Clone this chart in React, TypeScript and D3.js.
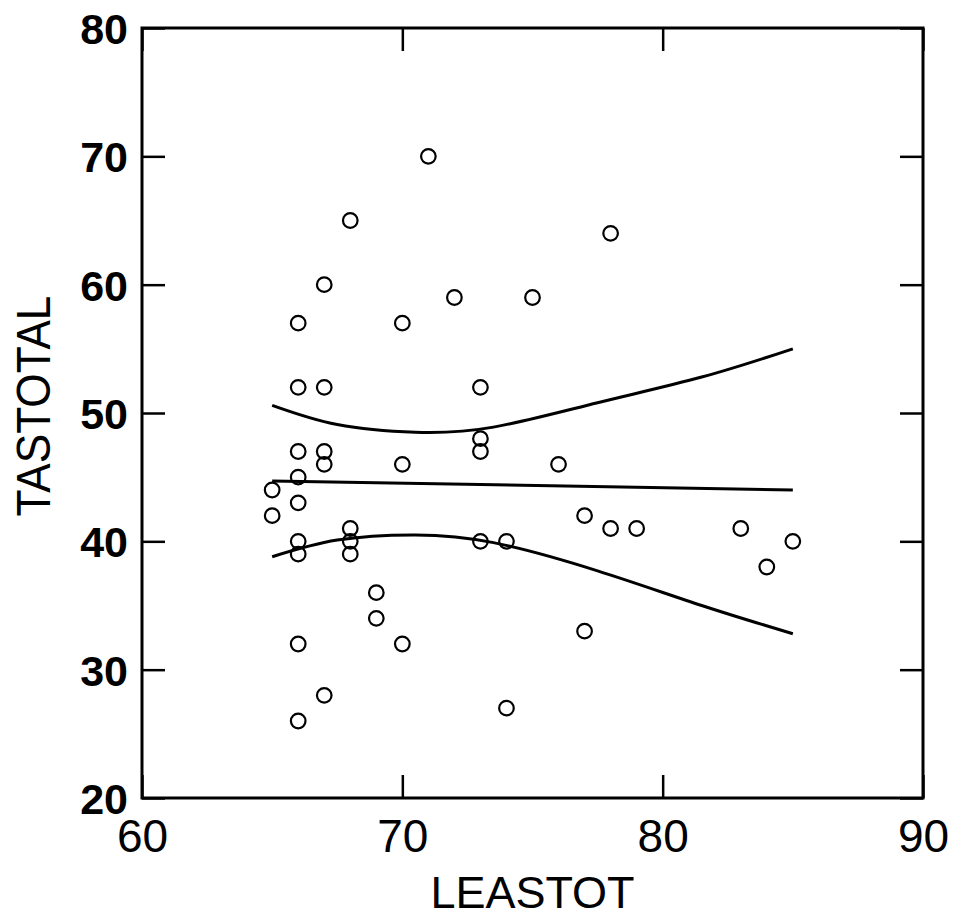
import React, { useEffect, useRef } from "react";
import * as d3 from "d3";

// LEASTOT (x) and TASTOTAL (y)
const leastot = [
  71, 68, 67, 66, 72, 70, 75, 78, 66, 67, 73, 73, 73, 66, 67, 67, 70, 76, 66, 65, 66,
  65, 77, 78, 79, 83, 68, 68, 68, 66, 66, 73, 74, 85, 84, 69, 69, 66, 70, 77, 67, 66, 74,
];
const tastotal = [
  70, 65, 60, 57, 59, 57, 59, 64, 52, 52, 52, 48, 47, 47, 47, 46, 46, 46, 45, 44, 43,
  42, 42, 41, 41, 41, 41, 40, 39, 40, 39, 40, 40, 40, 38, 36, 34, 32, 32, 33, 28, 26, 27,
];

// fitted line and its band
const fitX = [65, 85];
const fitY = [44.7, 44.0];
const bandX = [65, 67.5, 70.5, 73.5, 77.5, 81.5, 85];
const upperY = [50.6, 49.1, 48.5, 48.9, 50.8, 52.8, 55.0];
const lowerY = [38.8, 40.1, 40.5, 39.9, 37.7, 35.0, 32.8];

const xTicks = [60, 70, 80, 90];
const yTicks = [20, 30, 40, 50, 60, 70, 80];

const FONT = "'Liberation Sans', Arial, Helvetica, sans-serif";

const App = () => {
  const svgRef = useRef<SVGSVGElement>(null);

  useEffect(() => {
    const svg = d3.select(svgRef.current);
    svg.selectAll("*").remove();

    const width = 955;
    const height = 919;
    const margin = { top: 28, right: 32, bottom: 121, left: 142 };

    const x = d3.scaleLinear().domain([60, 90]).range([margin.left, width - margin.right]);
    const y = d3.scaleLinear().domain([20, 80]).range([height - margin.bottom, margin.top]);

    const tick = 23;

    // frame
    svg
      .append("rect")
      .attr("x", x(60))
      .attr("y", y(80))
      .attr("width", x(90) - x(60))
      .attr("height", y(20) - y(80))
      .attr("fill", "none")
      .attr("stroke", "black")
      .attr("stroke-width", 3);

    // bottom axis
    const xAxisG = svg
      .append("g")
      .attr("transform", `translate(0,${y(20)})`)
      .call(d3.axisBottom(x).tickValues(xTicks).tickFormat(d3.format("d")).tickSizeInner(-tick).tickSizeOuter(0).tickPadding(21));
    xAxisG.select("path").remove();
    xAxisG.selectAll("line").attr("stroke", "black").attr("stroke-width", 2.5);
    xAxisG
      .selectAll("text")
      .attr("fill", "black")
      .style("font-family", FONT)
      .style("font-size", "46px");

    // top axis (ticks only)
    const xTopG = svg
      .append("g")
      .attr("transform", `translate(0,${y(80)})`)
      .call(d3.axisTop(x).tickValues(xTicks).tickFormat(() => "").tickSizeInner(-tick).tickSizeOuter(0));
    xTopG.select("path").remove();
    xTopG.selectAll("line").attr("stroke", "black").attr("stroke-width", 2.5);

    // left axis
    const yAxisG = svg
      .append("g")
      .attr("transform", `translate(${x(60)},0)`)
      .call(d3.axisLeft(y).tickValues(yTicks).tickFormat(d3.format("d")).tickSizeInner(-tick).tickSizeOuter(0).tickPadding(14));
    yAxisG.select("path").remove();
    yAxisG.selectAll("line").attr("stroke", "black").attr("stroke-width", 2.5);
    yAxisG
      .selectAll("text")
      .attr("fill", "black")
      .attr("dy", "0.36em")
      .style("font-family", FONT)
      .style("font-weight", "bold")
      .style("font-size", "43px");

    // right axis (ticks only)
    const yRightG = svg
      .append("g")
      .attr("transform", `translate(${x(90)},0)`)
      .call(d3.axisRight(y).tickValues(yTicks).tickFormat(() => "").tickSizeInner(-tick).tickSizeOuter(0));
    yRightG.select("path").remove();
    yRightG.selectAll("line").attr("stroke", "black").attr("stroke-width", 2.5);

    // axis titles
    svg
      .append("text")
      .attr("x", (x(60) + x(90)) / 2)
      .attr("y", 908)
      .attr("text-anchor", "middle")
      .style("font-family", FONT)
      .style("font-size", "45px")
      .attr("fill", "black")
      .text("LEASTOT");

    svg
      .append("text")
      .attr("transform", `translate(50,${406}) rotate(-90) scale(0.92,1)`)
      .attr("text-anchor", "middle")
      .style("font-family", FONT)
      .style("font-size", "48px")
      .attr("fill", "black")
      .text("TASTOTAL");

    // fit line and band
    const line = d3
      .line<[number, number]>()
      .x((d) => x(d[0]))
      .y((d) => y(d[1]))
      .curve(d3.curveNatural);

    const curves: [number, number][][] = [
      fitX.map((v, i) => [v, fitY[i]]),
      bandX.map((v, i) => [v, upperY[i]]),
      bandX.map((v, i) => [v, lowerY[i]]),
    ];

    svg
      .selectAll("path.fit")
      .data(curves)
      .enter()
      .append("path")
      .attr("class", "fit")
      .attr("d", (d) => line(d))
      .attr("fill", "none")
      .attr("stroke", "black")
      .attr("stroke-width", 3);

    // points
    svg
      .selectAll("circle.pt")
      .data(leastot.map((v, i) => [v, tastotal[i]]))
      .enter()
      .append("circle")
      .attr("class", "pt")
      .attr("cx", (d) => x(d[0]))
      .attr("cy", (d) => y(d[1]))
      .attr("r", 7.3)
      .attr("fill", "none")
      .attr("stroke", "black")
      .attr("stroke-width", 2.2);
  }, []);

  return (
    <svg
      ref={svgRef}
      width={955}
      height={919}
      style={{ position: "absolute", left: 0, top: 0, background: "white" }}
    />
  );
};

export default App;
